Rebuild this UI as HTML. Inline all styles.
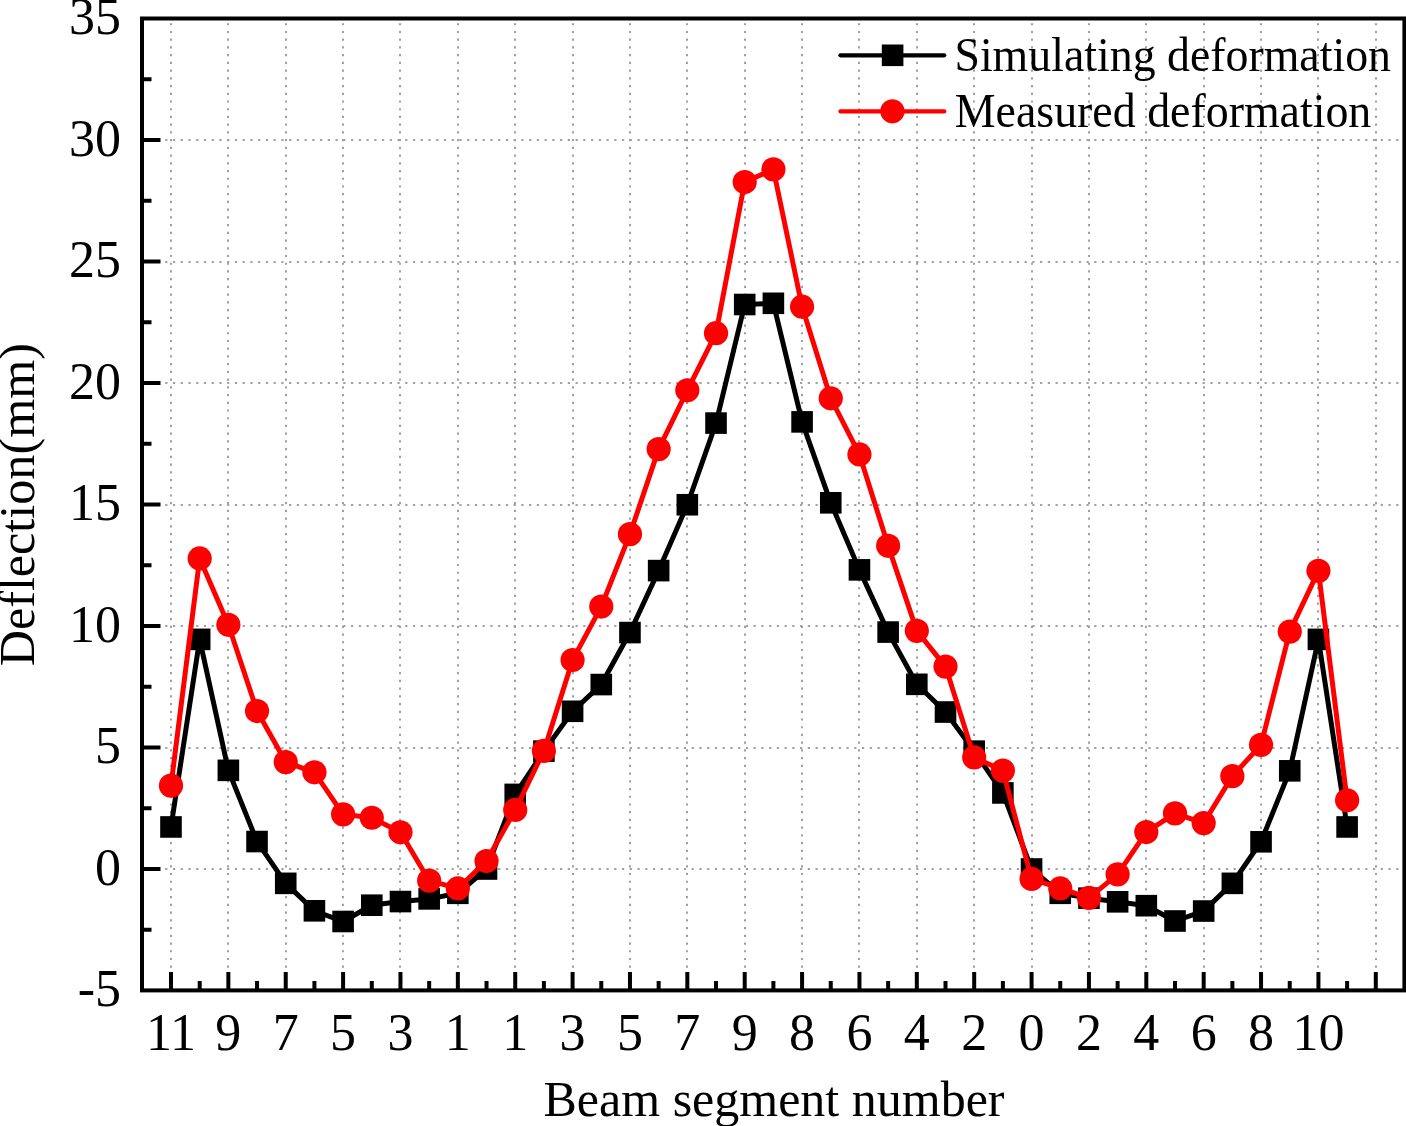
<!DOCTYPE html>
<html><head><meta charset="utf-8"><title>Chart</title>
<style>html,body{margin:0;padding:0;background:#fff;width:1406px;height:1126px;overflow:hidden}svg{display:block}</style>
</head><body>
<svg width="1406" height="1126" viewBox="0 0 1406 1126">
<defs><filter id="gs" x="-5%" y="-20%" width="110%" height="140%"><feColorMatrix type="saturate" values="0"/></filter></defs>
<rect x="0" y="0" width="1406" height="1126" fill="#fff"/>
<path d="M171.00 23.15V988.40M228.00 23.15V988.40M286.00 23.15V988.40M343.00 23.15V988.40M400.00 23.15V988.40M458.00 23.15V988.40M515.00 23.15V988.40M573.00 23.15V988.40M630.00 23.15V988.40M687.00 23.15V988.40M745.00 23.15V988.40M802.00 23.15V988.40M859.00 23.15V988.40M917.00 23.15V988.40M974.00 23.15V988.40M1032.00 23.15V988.40M1089.00 23.15V988.40M1146.00 23.15V988.40M1204.00 23.15V988.40M1261.00 23.15V988.40M1318.00 23.15V988.40M1376.00 23.15V988.40" stroke="#a0a0a0" stroke-width="2" stroke-dasharray="2.2 5.525" fill="none"/>
<path d="M149.72 869.00H1402.40M149.72 748.00H1402.40M149.72 626.00H1402.40M149.72 505.00H1402.40M149.72 383.00H1402.40M149.72 262.00H1402.40M149.72 140.00H1402.40" stroke="#a0a0a0" stroke-width="2" stroke-dasharray="2.2 5.542" fill="none"/>
<path d="M170.99 990.40V971.90M199.67 990.40V980.90M228.36 990.40V971.90M257.04 990.40V980.90M285.73 990.40V971.90M314.42 990.40V980.90M343.10 990.40V971.90M371.79 990.40V980.90M400.47 990.40V971.90M429.16 990.40V980.90M457.85 990.40V971.90M486.53 990.40V980.90M515.22 990.40V971.90M543.90 990.40V980.90M572.59 990.40V971.90M601.28 990.40V980.90M629.96 990.40V971.90M658.65 990.40V980.90M687.33 990.40V971.90M716.02 990.40V980.90M744.71 990.40V971.90M773.39 990.40V980.90M802.08 990.40V971.90M830.76 990.40V980.90M859.45 990.40V971.90M888.14 990.40V980.90M916.82 990.40V971.90M945.51 990.40V980.90M974.19 990.40V971.90M1002.88 990.40V980.90M1031.57 990.40V971.90M1060.25 990.40V980.90M1088.94 990.40V971.90M1117.62 990.40V980.90M1146.31 990.40V971.90M1175.00 990.40V980.90M1203.68 990.40V971.90M1232.37 990.40V980.90M1261.05 990.40V971.90M1289.74 990.40V980.90M1318.43 990.40V971.90M1347.11 990.40V980.90M1375.80 990.40V971.90M142.00 929.75H151.50M142.00 869.00H160.50M142.00 808.25H151.50M142.00 747.50H160.50M142.00 686.75H151.50M142.00 626.00H160.50M142.00 565.25H151.50M142.00 504.50H160.50M142.00 443.75H151.50M142.00 383.00H160.50M142.00 322.25H151.50M142.00 261.50H160.50M142.00 200.75H151.50M142.00 140.00H160.50M142.00 79.25H151.50" stroke="#000" stroke-width="4" fill="none"/>
<rect x="142.00" y="18.50" width="1262.40" height="971.90" fill="none" stroke="#000" stroke-width="4.0"/>
<polyline points="170.99,826.96 199.67,639.37 228.36,770.34 257.04,841.54 285.73,883.34 314.42,910.80 343.10,921.49 371.79,905.21 400.47,901.56 429.16,898.89 457.85,893.30 486.53,869.00 515.22,794.40 543.90,751.14 572.59,711.29 601.28,684.56 629.96,632.56 658.65,570.60 687.33,504.74 716.02,423.09 744.71,304.51 773.39,303.30 802.08,421.88 830.76,502.80 859.45,569.87 888.14,632.08 916.82,684.32 945.51,712.02 974.19,751.14 1002.88,792.94 1031.57,869.00 1060.25,893.30 1088.94,898.16 1117.62,901.81 1146.31,905.69 1175.00,921.00 1203.68,911.04 1232.37,883.34 1261.05,841.78 1289.74,770.83 1318.43,639.37 1347.11,826.96" fill="none" stroke="#000" stroke-width="5" stroke-linejoin="round"/>
<g fill="#000"><rect x="160.19" y="816.16" width="21.6" height="21.6"/><rect x="188.87" y="628.57" width="21.6" height="21.6"/><rect x="217.56" y="759.54" width="21.6" height="21.6"/><rect x="246.24" y="830.74" width="21.6" height="21.6"/><rect x="274.93" y="872.54" width="21.6" height="21.6"/><rect x="303.62" y="900.00" width="21.6" height="21.6"/><rect x="332.30" y="910.69" width="21.6" height="21.6"/><rect x="360.99" y="894.41" width="21.6" height="21.6"/><rect x="389.67" y="890.76" width="21.6" height="21.6"/><rect x="418.36" y="888.09" width="21.6" height="21.6"/><rect x="447.05" y="882.50" width="21.6" height="21.6"/><rect x="475.73" y="858.20" width="21.6" height="21.6"/><rect x="504.42" y="783.60" width="21.6" height="21.6"/><rect x="533.10" y="740.35" width="21.6" height="21.6"/><rect x="561.79" y="700.49" width="21.6" height="21.6"/><rect x="590.48" y="673.76" width="21.6" height="21.6"/><rect x="619.16" y="621.76" width="21.6" height="21.6"/><rect x="647.85" y="559.80" width="21.6" height="21.6"/><rect x="676.53" y="493.94" width="21.6" height="21.6"/><rect x="705.22" y="412.29" width="21.6" height="21.6"/><rect x="733.91" y="293.71" width="21.6" height="21.6"/><rect x="762.59" y="292.50" width="21.6" height="21.6"/><rect x="791.28" y="411.08" width="21.6" height="21.6"/><rect x="819.96" y="492.00" width="21.6" height="21.6"/><rect x="848.65" y="559.07" width="21.6" height="21.6"/><rect x="877.34" y="621.28" width="21.6" height="21.6"/><rect x="906.02" y="673.52" width="21.6" height="21.6"/><rect x="934.71" y="701.22" width="21.6" height="21.6"/><rect x="963.39" y="740.35" width="21.6" height="21.6"/><rect x="992.08" y="782.14" width="21.6" height="21.6"/><rect x="1020.77" y="858.20" width="21.6" height="21.6"/><rect x="1049.45" y="882.50" width="21.6" height="21.6"/><rect x="1078.14" y="887.36" width="21.6" height="21.6"/><rect x="1106.82" y="891.01" width="21.6" height="21.6"/><rect x="1135.51" y="894.89" width="21.6" height="21.6"/><rect x="1164.20" y="910.20" width="21.6" height="21.6"/><rect x="1192.88" y="900.24" width="21.6" height="21.6"/><rect x="1221.57" y="872.54" width="21.6" height="21.6"/><rect x="1250.25" y="830.98" width="21.6" height="21.6"/><rect x="1278.94" y="760.03" width="21.6" height="21.6"/><rect x="1307.63" y="628.57" width="21.6" height="21.6"/><rect x="1336.31" y="816.16" width="21.6" height="21.6"/></g>
<polyline points="170.99,785.65 199.67,558.45 228.36,624.79 257.04,711.05 285.73,762.08 314.42,772.29 343.10,814.33 371.79,817.73 400.47,832.31 429.16,880.66 457.85,888.44 486.53,860.98 515.22,809.95 543.90,750.90 572.59,660.02 601.28,606.56 629.96,534.15 658.65,449.10 687.33,390.29 716.02,333.19 744.71,182.04 773.39,169.40 802.08,306.70 830.76,398.31 859.45,454.44 888.14,545.81 916.82,630.86 945.51,666.58 974.19,757.46 1002.88,770.59 1031.57,878.96 1060.25,888.44 1088.94,897.92 1117.62,874.35 1146.31,832.06 1175.00,813.35 1203.68,823.07 1232.37,776.17 1261.05,744.83 1289.74,631.59 1318.43,570.84 1347.11,800.23" fill="none" stroke="#f00" stroke-width="5" stroke-linejoin="round"/>
<g fill="#f00"><circle cx="170.99" cy="785.65" r="12.1"/><circle cx="199.67" cy="558.45" r="12.1"/><circle cx="228.36" cy="624.79" r="12.1"/><circle cx="257.04" cy="711.05" r="12.1"/><circle cx="285.73" cy="762.08" r="12.1"/><circle cx="314.42" cy="772.29" r="12.1"/><circle cx="343.10" cy="814.33" r="12.1"/><circle cx="371.79" cy="817.73" r="12.1"/><circle cx="400.47" cy="832.31" r="12.1"/><circle cx="429.16" cy="880.66" r="12.1"/><circle cx="457.85" cy="888.44" r="12.1"/><circle cx="486.53" cy="860.98" r="12.1"/><circle cx="515.22" cy="809.95" r="12.1"/><circle cx="543.90" cy="750.90" r="12.1"/><circle cx="572.59" cy="660.02" r="12.1"/><circle cx="601.28" cy="606.56" r="12.1"/><circle cx="629.96" cy="534.15" r="12.1"/><circle cx="658.65" cy="449.10" r="12.1"/><circle cx="687.33" cy="390.29" r="12.1"/><circle cx="716.02" cy="333.19" r="12.1"/><circle cx="744.71" cy="182.04" r="12.1"/><circle cx="773.39" cy="169.40" r="12.1"/><circle cx="802.08" cy="306.70" r="12.1"/><circle cx="830.76" cy="398.31" r="12.1"/><circle cx="859.45" cy="454.44" r="12.1"/><circle cx="888.14" cy="545.81" r="12.1"/><circle cx="916.82" cy="630.86" r="12.1"/><circle cx="945.51" cy="666.58" r="12.1"/><circle cx="974.19" cy="757.46" r="12.1"/><circle cx="1002.88" cy="770.59" r="12.1"/><circle cx="1031.57" cy="878.96" r="12.1"/><circle cx="1060.25" cy="888.44" r="12.1"/><circle cx="1088.94" cy="897.92" r="12.1"/><circle cx="1117.62" cy="874.35" r="12.1"/><circle cx="1146.31" cy="832.06" r="12.1"/><circle cx="1175.00" cy="813.35" r="12.1"/><circle cx="1203.68" cy="823.07" r="12.1"/><circle cx="1232.37" cy="776.17" r="12.1"/><circle cx="1261.05" cy="744.83" r="12.1"/><circle cx="1289.74" cy="631.59" r="12.1"/><circle cx="1318.43" cy="570.84" r="12.1"/><circle cx="1347.11" cy="800.23" r="12.1"/></g>
<path d="M840.5 55.3H944.2" stroke="#000" stroke-width="4.3" stroke-linecap="round"/>
<rect x="881.80" y="44.50" width="21.6" height="21.6" fill="#000"/>
<path d="M840.5 111.4H944.2" stroke="#f00" stroke-width="4.3" stroke-linecap="round"/>
<circle cx="892.4" cy="111.3" r="12.1" fill="#f00"/>
<g font-family="Liberation Serif, serif" font-size="48" fill="#000" filter="url(#gs)">
<text transform="translate(954.4 71) scale(0.955 1)">Simulating deformation</text>
<text transform="translate(954.8 127.2) scale(0.956 1)">Measured deformation</text>
</g>
<g font-family="Liberation Serif, serif" font-size="52" fill="#000" text-anchor="end">
<text x="121" y="1006.00">-5</text>
<text x="121" y="884.50">0</text>
<text x="121" y="763.00">5</text>
<text x="121" y="641.50">10</text>
<text x="121" y="520.00">15</text>
<text x="121" y="398.50">20</text>
<text x="121" y="277.00">25</text>
<text x="121" y="155.50">30</text>
<text x="121" y="34.00">35</text>
</g>
<g font-family="Liberation Serif, serif" font-size="52" fill="#000" text-anchor="middle">
<text x="170.99" y="1050">11</text>
<text x="228.36" y="1050">9</text>
<text x="285.73" y="1050">7</text>
<text x="343.10" y="1050">5</text>
<text x="400.47" y="1050">3</text>
<text x="457.85" y="1050">1</text>
<text x="515.22" y="1050">1</text>
<text x="572.59" y="1050">3</text>
<text x="629.96" y="1050">5</text>
<text x="687.33" y="1050">7</text>
<text x="744.71" y="1050">9</text>
<text x="802.08" y="1050">8</text>
<text x="859.45" y="1050">6</text>
<text x="916.82" y="1050">4</text>
<text x="974.19" y="1050">2</text>
<text x="1031.57" y="1050">0</text>
<text x="1088.94" y="1050">2</text>
<text x="1146.31" y="1050">4</text>
<text x="1203.68" y="1050">6</text>
<text x="1261.05" y="1050">8</text>
<text x="1318.43" y="1050">10</text>
</g>
<text font-family="Liberation Serif, serif" font-size="50" x="774" y="1115.8" text-anchor="middle">Beam segment number</text>
<text font-family="Liberation Serif, serif" font-size="50.2" transform="translate(34.2 504.7) rotate(-90)" text-anchor="middle">Deflection(mm)</text>
</svg>
</body></html>
